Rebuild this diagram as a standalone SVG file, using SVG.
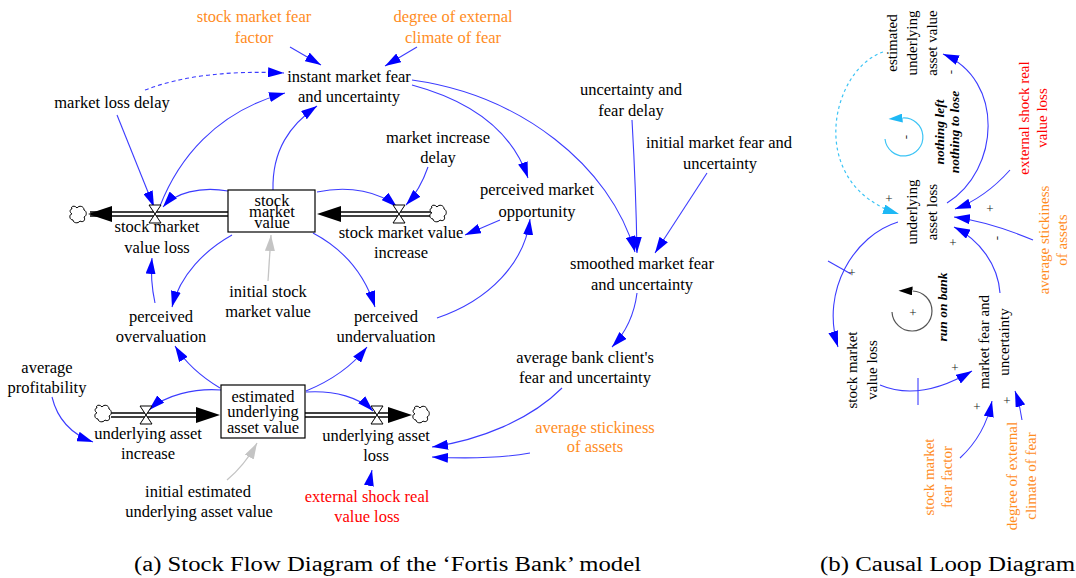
<svg xmlns="http://www.w3.org/2000/svg" width="1076" height="578" viewBox="0 0 1076 578">
  <style>
    .t { font-family: "Liberation Serif", "Times New Roman", serif; font-size: 16.5px; fill: #000; text-anchor: middle; }
    .rt { font-family: "Liberation Serif", "Times New Roman", serif; font-size: 15px; fill: #000; text-anchor: middle; }
    .lp { font-family: "Liberation Serif", "Times New Roman", serif; font-size: 13.5px; font-weight: bold; font-style: italic; fill: #000; text-anchor: middle; }
    .sg { font-family: "Liberation Serif", "Times New Roman", serif; font-size: 13px; fill: #222; text-anchor: middle; }
    .cap { font-family: "Liberation Serif", "Times New Roman", serif; font-size: 20px; fill: #000; }
    .o { fill: #ff8c1e; }
    .r { fill: #ff0000; }
    .c { fill: none; stroke: #3c3cff; stroke-width: 1.1; marker-end: url(#ab); }
    .gr { fill: none; stroke: #c4c4c4; stroke-width: 1.3; marker-end: url(#ag); }
    .cy { fill: none; stroke: #3cc4f5; stroke-width: 1.2; }
    .pipe-o { fill: none; stroke: #000; stroke-width: 5.5; }
    .pipe-i { fill: none; stroke: #fff; stroke-width: 2.6; }
    .stock { fill: #fff; stroke: #000; stroke-width: 1.2; }
    .valve { fill: #fff; stroke: #000; stroke-width: 1; }
    .cloud { fill: #fff; stroke: #000; stroke-width: 1; }
  </style>
  <defs>
    <marker id="ab" viewBox="0 0 16 10" refX="16" refY="5" markerWidth="16" markerHeight="10" markerUnits="userSpaceOnUse" orient="auto">
      <path d="M0,0 L16,5 L0,10 z" fill="#0000ff"/>
    </marker>
    <marker id="ag" viewBox="0 0 16 10" refX="16" refY="5" markerWidth="16" markerHeight="10" markerUnits="userSpaceOnUse" orient="auto">
      <path d="M0,0 L16,5 L0,10 z" fill="#c4c4c4"/>
    </marker>
    <marker id="ac" viewBox="0 0 16 10" refX="16" refY="5" markerWidth="16" markerHeight="10" markerUnits="userSpaceOnUse" orient="auto">
      <path d="M0,0 L16,5 L0,10 z" fill="#1eb8f5"/>
    </marker>
    <marker id="lc" viewBox="0 0 14 9" refX="0" refY="4.5" markerWidth="14" markerHeight="9" markerUnits="userSpaceOnUse" orient="auto">
      <path d="M0,0 L14,4.5 L0,9 z" fill="#1eb8f5"/>
    </marker>
    <marker id="lk" viewBox="0 0 14 9" refX="0" refY="4.5" markerWidth="14" markerHeight="9" markerUnits="userSpaceOnUse" orient="auto">
      <path d="M0,0 L14,4.5 L0,9 z" fill="#000"/>
    </marker>
    <path id="cloudshape" d="M-6,-6 C-8,-9 -3,-10 -1,-7 C1,-10 6,-9 6,-5 C9,-4 9,1 6,2 C8,5 5,8 2,6 C0,9 -5,8 -5,5 C-9,5 -9,-1 -6,-1 C-9,-3 -8,-6 -6,-6 Z"/>
    <path id="valveshape" d="M-6,-9 L6,-9 L-6,9 L6,9 Z"/>
  </defs>

  <rect width="1076" height="578" fill="#fff"/>

  <!-- material flows (pipes) -->
  <g id="flows">
    <line class="pipe-o" x1="90" y1="214" x2="228" y2="214"/>
    <line class="pipe-i" x1="90" y1="214" x2="228" y2="214"/>
    <polygon points="88,214 112,206 112,222" fill="#000"/>
    <line class="pipe-o" x1="330" y1="214" x2="431" y2="214"/>
    <line class="pipe-i" x1="330" y1="214" x2="431" y2="214"/>
    <polygon points="317,214 341,206 341,222" fill="#000"/>
    <line class="pipe-o" x1="111" y1="415" x2="205" y2="415"/>
    <line class="pipe-i" x1="111" y1="415" x2="205" y2="415"/>
    <polygon points="220,415 196,407 196,423" fill="#000"/>
    <line class="pipe-o" x1="305" y1="415" x2="398" y2="415"/>
    <line class="pipe-i" x1="305" y1="415" x2="398" y2="415"/>
    <polygon points="412,415 388,407 388,423" fill="#000"/>
  </g>

  <!-- causal connectors -->
  <g id="connectors">
    <!-- stock flow diagram -->
    <path class="c" d="M290,47 L321,65"/>
    <path class="c" d="M417,47 L385,66"/>
    <path class="c" d="M145,90 Q200,69 284,73" stroke-dasharray="4,3"/>
    <path class="c" d="M117,115 Q135,160 154,207"/>
    <path class="c" d="M160,206 C178,160 215,112 285,93"/>
    <path class="c" d="M273,190 C272,150 290,125 317,106"/>
    <path class="c" d="M412,85 Q505,110 528,178"/>
    <path class="c" d="M412,80 C520,95 610,165 635,252"/>
    <path class="c" d="M632,120 Q636,190 637,253"/>
    <path class="c" d="M707,173 L655,253"/>
    <path class="c" d="M428,167 Q420,190 406,205"/>
    <path class="c" d="M317,192 C350,185 380,192 397,207"/>
    <path class="c" d="M228,191 C200,186 175,193 163,207"/>
    <path class="c" d="M500,220 L465,235"/>
    <path class="c" d="M437,318 C490,300 525,262 530,219"/>
    <path class="c" d="M637,293 Q633,325 612,347"/>
    <path class="c" d="M232,235 C205,250 180,275 172,307"/>
    <path class="c" d="M313,233 C345,250 365,275 375,307"/>
    <path class="gr" d="M268,281 L271,235"/>
    <path class="c" d="M155,303 Q150,280 152,258"/>
    <path class="c" d="M220,388 Q190,370 175,346"/>
    <path class="c" d="M306,391 Q345,375 367,347"/>
    <path class="c" d="M221,390 C195,388 165,395 149,410"/>
    <path class="c" d="M306,392 C335,390 360,398 373,411"/>
    <path class="c" d="M52,397 Q60,430 93,442"/>
    <path class="gr" d="M227,480 Q245,465 257,443"/>
    <path class="c" d="M562,388 C530,420 480,440 432,447"/>
    <path class="c" d="M530,453 Q490,460 432,457"/>
    <path class="c" d="M369,485 L372,470"/>

    <!-- causal loop diagram -->
    <path class="cy" d="M883,52 C830,70 805,185 899,214" stroke-dasharray="3,3" marker-end="url(#ac)"/>
    <path class="c" d="M947,203 C1000,170 1005,80 943,54"/>
    <path class="c" d="M1010,170 Q985,198 955,209"/>
    <path class="c" d="M1033,240 Q990,222 954,217"/>
    <path class="c" d="M1000,293 C998,265 980,240 954,227"/>
    <path class="c" d="M898,222 C855,235 820,290 838,347"/>
    <line x1="828" y1="261" x2="851" y2="274" stroke="#3c3cff" stroke-width="1.1"/>
    <path class="c" d="M880,385 Q920,402 972,371"/>
    <line x1="918" y1="378" x2="918" y2="405" stroke="#3c3cff" stroke-width="1.1"/>
    <path class="c" d="M960,458 Q985,435 992,401"/>
    <path class="c" d="M1022,420 Q1020,405 1015,391"/>
  </g>

  <!-- stock flow diagram nodes -->
  <g id="stock-market-value">
    <rect class="stock" x="228" y="190" width="87" height="42"/>
    <text class="t"><tspan x="272" y="206">stock</tspan><tspan x="272" y="217">market</tspan><tspan x="272" y="228">value</tspan></text>
  </g>
  <g id="estimated-underlying-asset-value">
    <rect class="stock" x="221" y="385" width="84" height="53"/>
    <text class="t"><tspan x="263" y="402">estimated</tspan><tspan x="263" y="417">underlying</tspan><tspan x="263" y="433">asset value</tspan></text>
  </g>
  <g id="stock-market-value-loss">
    <use href="#cloudshape" class="cloud" transform="translate(78,215)"/>
    <use href="#valveshape" class="valve" transform="translate(155,214)"/>
    <text class="t"><tspan x="157" y="232">stock market</tspan><tspan x="157" y="253">value loss</tspan></text>
  </g>
  <g id="stock-market-value-increase">
    <use href="#cloudshape" class="cloud" transform="translate(438,214)"/>
    <use href="#valveshape" class="valve" transform="translate(399,214)"/>
    <text class="t"><tspan x="401" y="238">stock market value</tspan><tspan x="401" y="258">increase</tspan></text>
  </g>
  <g id="underlying-asset-increase">
    <use href="#cloudshape" class="cloud" transform="translate(103,414)"/>
    <use href="#valveshape" class="valve" transform="translate(146,415)"/>
    <text class="t"><tspan x="148" y="439">underlying asset</tspan><tspan x="148" y="459">increase</tspan></text>
  </g>
  <g id="underlying-asset-loss">
    <use href="#cloudshape" class="cloud" transform="translate(421,415)"/>
    <use href="#valveshape" class="valve" transform="translate(377,415)"/>
    <text class="t"><tspan x="376" y="441">underlying asset</tspan><tspan x="376" y="461">loss</tspan></text>
  </g>
  <g id="stock-market-fear-factor"><text class="t o"><tspan x="254" y="22">stock market fear</tspan><tspan x="254" y="43">factor</tspan></text></g>
  <g id="degree-of-external-climate-of-fear"><text class="t o"><tspan x="453" y="22">degree of external</tspan><tspan x="453" y="43">climate of fear</tspan></text></g>
  <g id="instant-market-fear"><text class="t"><tspan x="349" y="82">instant market fear</tspan><tspan x="349" y="102">and uncertainty</tspan></text></g>
  <g id="market-loss-delay"><text class="t" x="112" y="108">market loss delay</text></g>
  <g id="uncertainty-and-fear-delay"><text class="t"><tspan x="631" y="95">uncertainty and</tspan><tspan x="631" y="116">fear delay</tspan></text></g>
  <g id="initial-market-fear"><text class="t"><tspan x="719" y="148">initial market fear and</tspan><tspan x="720" y="169">uncertainty</tspan></text></g>
  <g id="market-increase-delay"><text class="t"><tspan x="438" y="143">market increase</tspan><tspan x="438" y="163">delay</tspan></text></g>
  <g id="perceived-market-opportunity"><text class="t"><tspan x="537" y="195">perceived market</tspan><tspan x="537" y="217">opportunity</tspan></text></g>
  <g id="smoothed-market-fear"><text class="t"><tspan x="642" y="269">smoothed market fear</tspan><tspan x="642" y="290">and uncertainty</tspan></text></g>
  <g id="initial-stock-market-value"><text class="t"><tspan x="268" y="297">initial stock</tspan><tspan x="268" y="317">market value</tspan></text></g>
  <g id="perceived-overvaluation"><text class="t"><tspan x="161" y="322">perceived</tspan><tspan x="161" y="342">overvaluation</tspan></text></g>
  <g id="perceived-undervaluation"><text class="t"><tspan x="386" y="322">perceived</tspan><tspan x="386" y="342">undervaluation</tspan></text></g>
  <g id="average-bank-client-fear"><text class="t"><tspan x="585" y="363">average bank client's</tspan><tspan x="585" y="383">fear and uncertainty</tspan></text></g>
  <g id="average-profitability"><text class="t"><tspan x="47" y="373">average</tspan><tspan x="47" y="393">profitability</tspan></text></g>
  <g id="average-stickiness-of-assets"><text class="t o"><tspan x="595" y="433">average stickiness</tspan><tspan x="595" y="452">of assets</tspan></text></g>
  <g id="initial-estimated-underlying-asset-value"><text class="t"><tspan x="198" y="497">initial estimated</tspan><tspan x="199" y="517">underlying asset value</tspan></text></g>
  <g id="external-shock-real-value-loss"><text class="t r"><tspan x="367" y="502">external shock real</tspan><tspan x="367" y="522">value loss</tspan></text></g>

  <!-- causal loop diagram nodes (vertical labels) -->
  <g id="cl-estimated-underlying-asset-value" transform="translate(897,43) rotate(-90)">
    <text class="rt"><tspan x="0" y="0">estimated</tspan><tspan x="0" y="20">underlying</tspan><tspan x="0" y="40">asset value</tspan></text>
  </g>
  <g id="cl-underlying-asset-loss" transform="translate(917,212) rotate(-90)">
    <text class="rt"><tspan x="0" y="0">underlying</tspan><tspan x="0" y="20">asset loss</tspan></text>
  </g>
  <g id="cl-external-shock" transform="translate(1029,118) rotate(-90)">
    <text class="rt r"><tspan x="0" y="0">external shock real</tspan><tspan x="0" y="18">value loss</tspan></text>
  </g>
  <g id="cl-average-stickiness" transform="translate(1049,240) rotate(-90)">
    <text class="rt o"><tspan x="0" y="0">average stickiness</tspan><tspan x="0" y="18">of assets</tspan></text>
  </g>
  <g id="cl-stock-market-value-loss" transform="translate(857,370) rotate(-90)">
    <text class="rt"><tspan x="0" y="0">stock market</tspan><tspan x="0" y="20">value loss</tspan></text>
  </g>
  <g id="cl-market-fear" transform="translate(989,342) rotate(-90)">
    <text class="rt"><tspan x="0" y="0">market fear and</tspan><tspan x="0" y="20">uncertainty</tspan></text>
  </g>
  <g id="cl-stock-market-fear-factor" transform="translate(934,477) rotate(-90)">
    <text class="rt o"><tspan x="0" y="0">stock market</tspan><tspan x="0" y="18">fear factor</tspan></text>
  </g>
  <g id="cl-degree-of-external" transform="translate(1017,476) rotate(-90)">
    <text class="rt o"><tspan x="0" y="0">degree of external</tspan><tspan x="0" y="19">climate of fear</tspan></text>
  </g>

  <!-- loop markers -->
  <g id="loop-nothing-left">
    <path class="cy" d="M885,139 A19,19 0 1 0 902.5,118" marker-end="url(#lc)"/>
    <text class="sg" transform="translate(910,137) rotate(-90)" fill="#3cc4f5">-</text>
    <text class="lp" transform="translate(944,132) rotate(-90)"><tspan x="0" y="0">nothing left</tspan><tspan x="0" y="15">nothing to lose</tspan></text>
  </g>
  <g id="loop-run-on-bank">
    <path d="M892,312 A20,20 0 1 0 912.5,291" fill="none" stroke="#555" stroke-width="1.2" marker-end="url(#lk)"/>
    <text class="sg" x="913" y="317">+</text>
    <text class="lp" transform="translate(947,307) rotate(-90)">run on bank</text>
  </g>

  <!-- link polarities -->
  <g id="polarities">
    <text class="sg" x="889" y="203">+</text>
    <text class="sg" transform="translate(955,72) rotate(-90)">-</text>
    <text class="sg" x="990" y="213">+</text>
    <text class="sg" transform="translate(1001,238) rotate(-90)">-</text>
    <text class="sg" x="953" y="247">+</text>
    <text class="sg" x="852" y="277">+</text>
    <text class="sg" x="955" y="372">+</text>
    <text class="sg" x="977" y="411">+</text>
    <text class="sg" x="1007" y="405">+</text>
  </g>

  <!-- captions -->
  <text class="cap" x="134" y="571" textLength="507" lengthAdjust="spacingAndGlyphs">(a) Stock Flow Diagram of the ‘Fortis Bank’ model</text>
  <text class="cap" x="820" y="571" textLength="255" lengthAdjust="spacingAndGlyphs">(b) Causal Loop Diagram</text>
</svg>
